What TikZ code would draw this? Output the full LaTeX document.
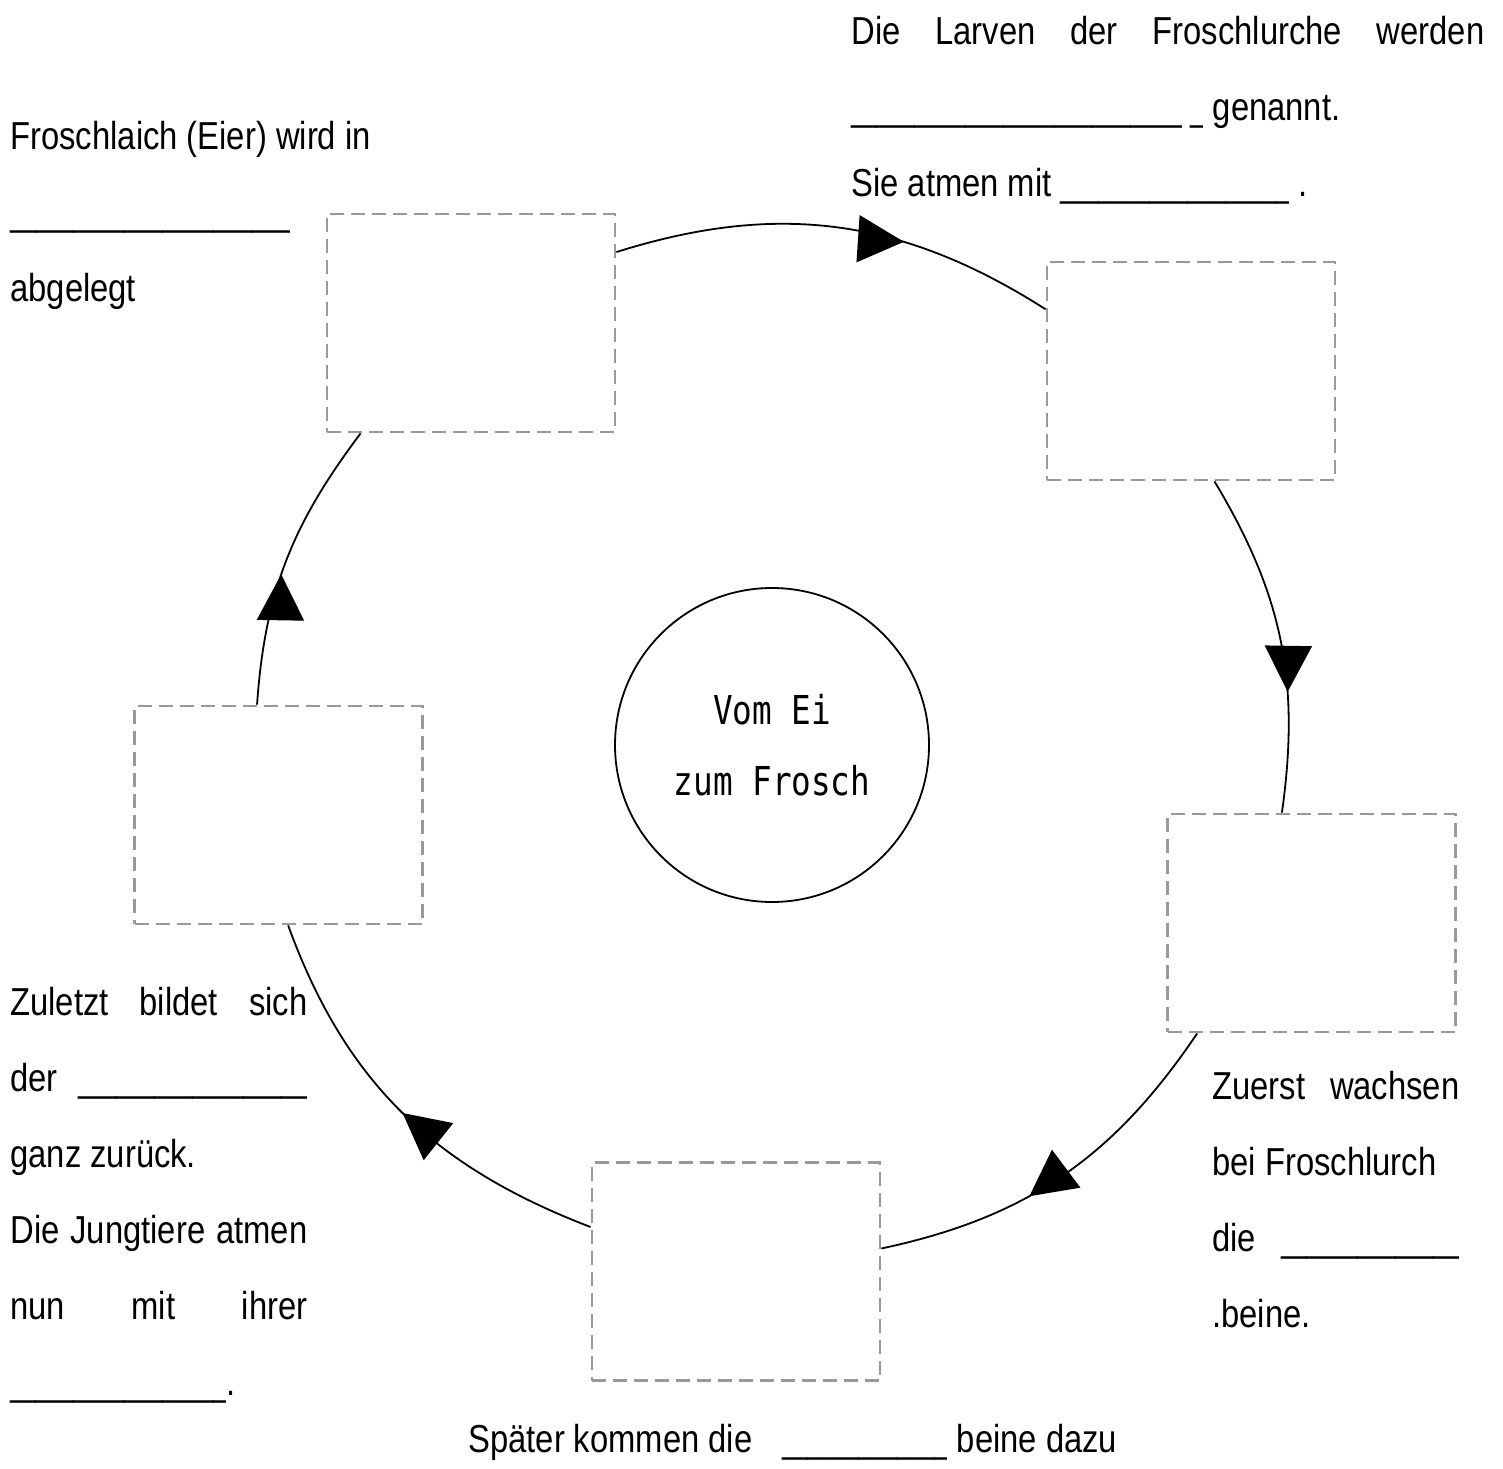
\documentclass[tikz,border=0pt]{standalone}
\usepackage{fontspec}
\setmainfont{Liberation Sans}
\newfontfamily\schrift[FakeStretch=0.84]{Liberation Sans}
\newfontfamily\strichschrift[FakeStretch=0.586]{Liberation Sans}
\newfontfamily\monoschrift[FakeStretch=0.82]{DejaVu Sans Mono}
\usetikzlibrary{arrows.meta,decorations.markings}

\newcommand\voll[1]{\makebox[\linewidth][s]{#1}}
\newcommand\luecke[1]{{\strichschrift\foreach \i in {1,...,#1}{\_}}}

\tikzset{
  feld/.style={draw=black!40, line width=1.4pt, dash pattern=on 7pt off 3.5pt,
    minimum width=144pt, minimum height=109pt, inner sep=0pt},
  pfeil/.style 2 args={draw, line width=0.9pt, postaction={decorate},
    decoration={markings, mark=at position #1 with {\pgftransformrotate{#2}\arrow{Triangle[length=23pt,width=23.5pt]}}}},
  aufgabe/.style={anchor=base west, inner sep=0pt, font=\schrift\fontsize{19.5}{38}\selectfont}
}

\begin{document}
\begin{tikzpicture}[x=0.5pt, y=0.5pt]
  \useasboundingbox (0,0) rectangle (1503,1468);

  % Mitte
  \node (mitte) [circle, draw, line width=0.9pt, minimum size=157pt, inner sep=0pt, align=center,
    font=\monoschrift\fontsize{19.9}{35.5}\selectfont] at (772,723) {Vom Ei\\zum Frosch};

  % Felder zum Zeichnen
  \node (laich) [feld] at (471,1145) {};
  \node (larve) [feld] at (1191,1097) {};
  \node (hinten) [feld] at (1311.5,545) {};
  \node (vorne) [feld] at (736,196.5) {};
  \node (jung) [feld] at (278.5,653) {};

  % Kreislauf
  \draw[pfeil={0.65}{13}] (laich.26) to[out=17.5, in=147.5] (larve.157);
  \draw[pfeil={0.65}{-5}] (larve.-78) to[out=-59, in=82] (hinten.105);
  \draw[pfeil={0.60}{8}] (hinten.-136) to[out=-124, in=12] (vorne.9);
  \draw[pfeil={0.50}{6}] (vorne.163) to[out=159, in=290] (jung.-85);
  \draw[pfeil={0.45}{18}] (jung.101) to[out=86, in=233] (laich.-135);

  % Texte
  \node (t1) [aufgabe] at (10,1318) {\parbox[t]{200pt}{Froschlaich (Eier) wird in\\
    \luecke{22}\\
    abgelegt}};
  \node (t2) [aufgabe] at (851,1423) {\parbox[t]{316.5pt}{\voll{Die Larven der Froschlurche werden}\\
    \luecke{26} \luecke{1} genannt.\\
    Sie atmen mit \luecke{18} .}};
  \node (t3) [aufgabe] at (1212,369) {\parbox[t]{123.5pt}{\voll{Zuerst wachsen}\\
    bei Froschlurch\\
    \voll{die \luecke{14}}\\
    .beine.}};
  \node (t4) [aufgabe] at (468,16) {Später kommen die\hspace{15pt}\luecke{13} beine dazu};
  \node (t5) [aufgabe] at (10,453) {\parbox[t]{148.5pt}{\voll{Zuletzt bildet sich}\\
    \voll{der \luecke{18}}\\
    ganz zurück.\\
    \voll{Die Jungtiere atmen}\\
    \voll{nun mit ihrer}\\
    \luecke{17}.}};
\end{tikzpicture}
\end{document}
